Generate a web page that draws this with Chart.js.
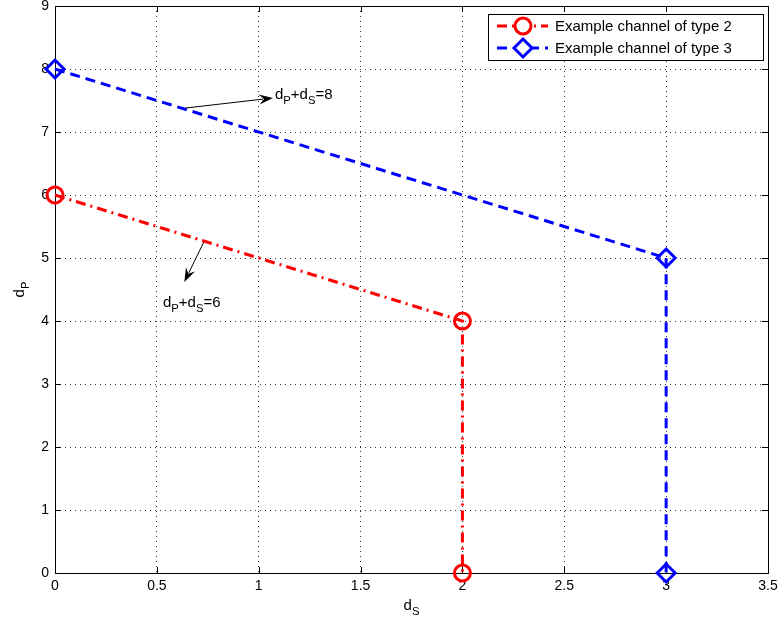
<!DOCTYPE html>
<html><head><meta charset="utf-8">
<script src="https://cdn.jsdelivr.net/npm/chart.js@4/dist/chart.umd.min.js"></script>
<style>html,body{margin:0;padding:0;background:#fff}#w{width:784px;height:628px;overflow:hidden;position:relative}#c{position:absolute;left:0;top:-6px}</style>
</head><body><div id="w"><canvas id="c" width="784" height="634"></canvas></div>
<script>
const type2X = [0, 2, 2];
const type2Y = [6, 4, 0];
const type3X = [0, 3, 3];
const type3Y = [8, 5, 0];
const seriesNames = ['Example channel of type 2', 'Example channel of type 3'];
const xTicks = [0, 0.5, 1, 1.5, 2, 2.5, 3, 3.5];
const yTicks = [0, 1, 2, 3, 4, 5, 6, 7, 8, 9];
// annotations: arrow start, arrow end, label position (data units)
const ann8 = {from: [0.64, 7.38], to: [1.07, 7.54], sum: '8', textAt: [1.08, 7.52]};
const ann6 = {from: [0.73, 5.25], to: [0.635, 4.62], sum: '6', textAt: [0.53, 4.22]};

const FONT = '"Liberation Sans", Arial, sans-serif';
const OFF = 6; // canvas is shifted up by this many pixels
const pts = (xs, ys) => xs.map((x, i) => ({x, y: ys[i]}));

function drawSubLabel(ctx, x, y, parts, size, align) {
  ctx.save();
  ctx.textBaseline = 'alphabetic';
  ctx.textAlign = 'left';
  let w = 0;
  parts.forEach(p => { ctx.font = (p[1] ? size * 0.75 : size) + 'px ' + FONT; w += ctx.measureText(p[0]).width; });
  let cx = align === 'center' ? x - w / 2 : x;
  parts.forEach(p => {
    ctx.font = (p[1] ? size * 0.75 : size) + 'px ' + FONT;
    ctx.fillText(p[0], cx, p[1] ? y + size * 0.35 : y);
    cx += ctx.measureText(p[0]).width;
  });
  ctx.restore();
  return w;
}

function arrow(ctx, x1, y1, x2, y2) {
  ctx.save();
  ctx.strokeStyle = '#000'; ctx.fillStyle = '#000'; ctx.lineWidth = 1;
  const a = Math.atan2(y2 - y1, x2 - x1);
  const L = 14, W = 5;
  const bx = x2 - L * Math.cos(a), by = y2 - L * Math.sin(a);
  ctx.beginPath(); ctx.moveTo(x1, y1); ctx.lineTo(bx + 4 * Math.cos(a), by + 4 * Math.sin(a)); ctx.stroke();
  ctx.beginPath();
  ctx.moveTo(x2, y2);
  ctx.lineTo(bx - W * Math.sin(a), by + W * Math.cos(a));
  ctx.lineTo(x2 - 9 * Math.cos(a), y2 - 9 * Math.sin(a));
  ctx.lineTo(bx + W * Math.sin(a), by - W * Math.cos(a));
  ctx.closePath(); ctx.fill();
  ctx.restore();
}

const decor = {
  id: 'decor',
  beforeDatasetsDraw(chart) {
    const {ctx, chartArea: a, scales: {x, y}} = chart;
    ctx.save();
    ctx.strokeStyle = '#000'; ctx.lineWidth = 1;
    xTicks.forEach(v => {
      const px = Math.round(x.getPixelForValue(v)) + 0.5;
      ctx.beginPath(); ctx.moveTo(px, a.bottom); ctx.lineTo(px, a.bottom - 6);
      ctx.moveTo(px, a.top); ctx.lineTo(px, a.top + 6); ctx.stroke();
    });
    yTicks.forEach(v => {
      const py = Math.round(y.getPixelForValue(v)) + 0.5;
      ctx.beginPath(); ctx.moveTo(a.left, py); ctx.lineTo(a.left + 6, py);
      ctx.moveTo(a.right, py); ctx.lineTo(a.right - 6, py); ctx.stroke();
    });
    ctx.strokeRect(Math.round(a.left) + 0.5, Math.round(a.top) + 0.5, Math.round(a.right - a.left), Math.round(a.bottom - a.top));
    ctx.restore();
  },
  afterDraw(chart) {
    const {ctx, chartArea: a, scales: {x, y}} = chart;
    ctx.save();
    ctx.fillStyle = '#000';
    drawSubLabel(ctx, (a.left + a.right) / 2, 610 + OFF, [['d', 0], ['S', 1]], 15, 'center');
    ctx.save(); ctx.translate(24, (a.top + a.bottom) / 2); ctx.rotate(-Math.PI / 2);
    drawSubLabel(ctx, 0, 0, [['d', 0], ['P', 1]], 15, 'center');
    ctx.restore();
    [ann8, ann6].forEach(an => {
      arrow(ctx, x.getPixelForValue(an.from[0]), y.getPixelForValue(an.from[1]),
                 x.getPixelForValue(an.to[0]), y.getPixelForValue(an.to[1]));
      drawSubLabel(ctx, x.getPixelForValue(an.textAt[0]), y.getPixelForValue(an.textAt[1]),
        [['d', 0], ['P', 1], ['+d', 0], ['S', 1], ['=' + an.sum, 0]], 15, 'left');
    });
    // legend
    const lx = 488, ly = 14 + OFF, lw = 275, lh = 46;
    ctx.fillStyle = '#fff'; ctx.fillRect(lx, ly, lw, lh);
    ctx.strokeStyle = '#000'; ctx.lineWidth = 1; ctx.strokeRect(lx + 0.5, ly + 0.5, lw, lh);
    const ds = chart.data.datasets;
    [0, 1].forEach(i => {
      const cy = ly + 12 + i * 22;
      const d = ds[i];
      ctx.save();
      ctx.strokeStyle = d.borderColor; ctx.lineWidth = 3; ctx.setLineDash(d.borderDash);
      ctx.beginPath(); ctx.moveTo(lx + 9, cy); ctx.lineTo(lx + 60, cy); ctx.stroke();
      ctx.setLineDash([]);
      ctx.fillStyle = '#fff';
      Chart.helpers.drawPoint(ctx, {pointStyle: d.pointStyle, radius: d.pointRadius, borderWidth: 3}, lx + 35, cy);
      ctx.restore();
      ctx.fillStyle = '#000'; ctx.font = '15px ' + FONT; ctx.textBaseline = 'middle'; ctx.textAlign = 'left';
      ctx.fillText(seriesNames[i], lx + 67, cy + 1);
    });
    ctx.restore();
  }
};

new Chart(document.getElementById('c'), {
  type: 'scatter',
  data: {datasets: [
    {label: seriesNames[0], data: pts(type2X, type2Y), showLine: true, clip: false, borderColor: '#ff0000', backgroundColor: 'rgba(0,0,0,0)',
     borderWidth: 3, borderDash: [10, 5, 2, 5], pointStyle: 'circle', pointRadius: 8, pointBorderWidth: 3, pointBackgroundColor: 'rgba(0,0,0,0)'},
    {label: seriesNames[1], data: pts(type3X, type3Y), showLine: true, clip: false, borderColor: '#0000ff', backgroundColor: 'rgba(0,0,0,0)',
     borderWidth: 3, borderDash: [10, 6], pointStyle: 'rectRot', pointRadius: 9, pointBorderWidth: 3, pointBackgroundColor: 'rgba(0,0,0,0)'}
  ]},
  options: {
    responsive: false, animation: false, devicePixelRatio: 1,
    layout: {padding: {top: 0, right: 16, left: 0, bottom: 0}},
    plugins: {legend: {display: false}, tooltip: {enabled: false}},
    scales: {
      x: {type: 'linear', min: 0, max: 3.5,
          afterBuildTicks: s => { s.ticks = xTicks.map(v => ({value: v})); },
          afterFit: s => { s.height = 55; s.paddingLeft = 0; s.paddingRight = 0; },
          border: {display: false, dash: [1, 4]},
          grid: {color: '#333', lineWidth: 1, drawTicks: false},
          ticks: {color: '#000', font: {family: FONT, size: 14}, padding: 5, maxRotation: 0, callback: v => String(v)}},
      y: {type: 'linear', min: 0, max: 9,
          afterBuildTicks: s => { s.ticks = yTicks.map(v => ({value: v})); },
          afterFit: s => { s.width = 55; s.paddingTop = 0; s.paddingBottom = 0; },
          border: {display: false, dash: [1, 4]},
          grid: {color: '#333', lineWidth: 1, drawTicks: false},
          ticks: {color: '#000', font: {family: FONT, size: 14}, padding: 6, callback: v => String(v)}}
    }
  },
  plugins: [decor]
});
</script>
</body></html>
